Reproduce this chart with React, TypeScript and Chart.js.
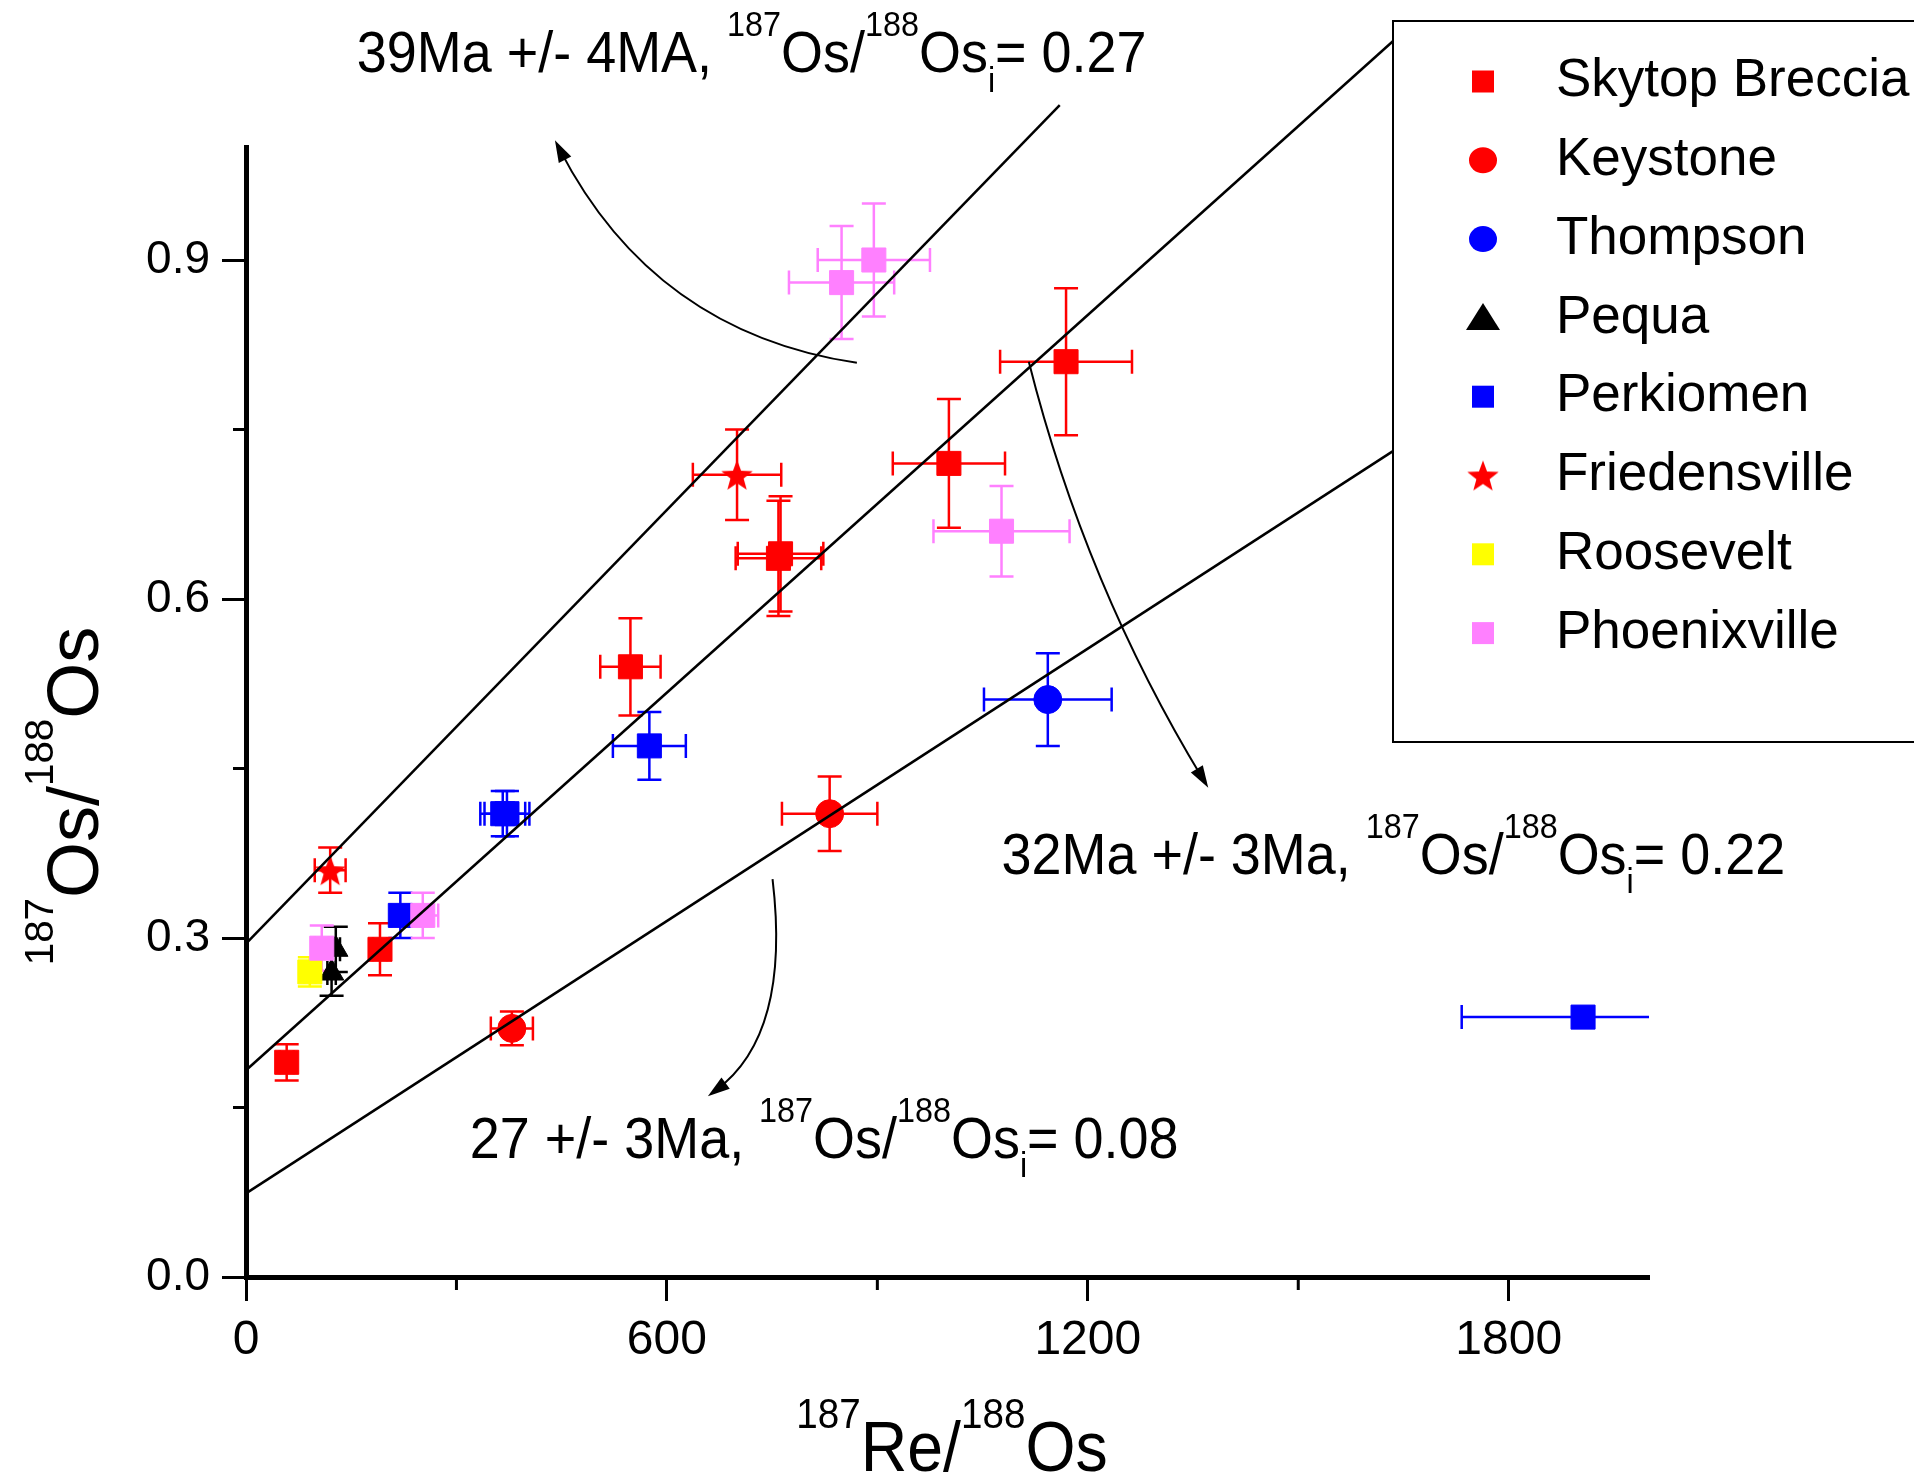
import React, { useEffect, useRef } from 'react';
import { Chart, registerables } from 'chart.js';

Chart.register(...registerables);

const FONT = '"Liberation Sans", Arial, Helvetica, sans-serif';

// ---------- axes ----------
const X_MIN = 0;
const X_MAX = 2000;
const Y_MIN = 0;
const Y_MAX = 1.0;
const xMajorTicks = [0, 600, 1200, 1800];
const yMajorTicks = [0, 0.3, 0.6, 0.9];
const xMinorTicks = [300, 900, 1500];
const yMinorTicks = [0.15, 0.45, 0.75];
const xTitle = '^{187}Re/^{188}Os';
const yTitle = '^{187}Os/^{188}Os';

// ---------- series ----------
const seriesNames = ['Skytop Breccia', 'Keystone', 'Thompson', 'Pequa', 'Perkiomen', 'Friedensville', 'Roosevelt', 'Phoenixville'];
const seriesColors = ['#FF0000', '#FF0000', '#0000FF', '#000000', '#0000FF', '#FF0000', '#FFFF00', '#FF80FF'];
const seriesStyles = ['rect', 'circle', 'circle', 'triangle', 'rect', 'star', 'rect', 'rect'];
const seriesOrder = [8, 7, 6, 3, 5, 4, 2, 1];

const skytopX = [58, 191, 548, 762, 759, 1002, 1169];
const skytopY = [0.19, 0.29, 0.54, 0.64, 0.636, 0.72, 0.81];
const skytopXe = [10, 10, 43, 61, 61, 80, 94];
const skytopYe = [0.016, 0.023, 0.043, 0.051, 0.051, 0.057, 0.065];

const keystoneX = [379, 832];
const keystoneY = [0.22, 0.41];
const keystoneXe = [30, 68];
const keystoneYe = [0.015, 0.033];

const thompsonX = [1143];
const thompsonY = [0.511];
const thompsonXe = [91];
const thompsonYe = [0.041];

const pequaX = [128, 122];
const pequaY = [0.29, 0.269];
const pequaXe = [6, 6];
const pequaYe = [0.02, 0.02];

const perkiomenX = [220, 366, 372, 575, 1906];
const perkiomenY = [0.32, 0.41, 0.41, 0.47, 0.23];
const perkiomenXe = [13, 32, 32, 52, 173];
const perkiomenYe = [0.02, 0.02, 0.02, 0.03, 0];

const friedensvilleX = [120, 700];
const friedensvilleY = [0.36, 0.71];
const friedensvilleXe = [22, 63];
const friedensvilleYe = [0.02, 0.04];

const rooseveltX = [91];
const rooseveltY = [0.27];
const rooseveltXe = [8];
const rooseveltYe = [0.013];

const phoenixvilleX = [108, 252, 849, 895, 1077];
const phoenixvilleY = [0.291, 0.32, 0.88, 0.9, 0.66];
const phoenixvilleXe = [10, 22, 75, 80, 97];
const phoenixvilleYe = [0.02, 0.02, 0.05, 0.05, 0.04];

const seriesX = [skytopX, keystoneX, thompsonX, pequaX, perkiomenX, friedensvilleX, rooseveltX, phoenixvilleX];
const seriesY = [skytopY, keystoneY, thompsonY, pequaY, perkiomenY, friedensvilleY, rooseveltY, phoenixvilleY];
const seriesXe = [skytopXe, keystoneXe, thompsonXe, pequaXe, perkiomenXe, friedensvilleXe, rooseveltXe, phoenixvilleXe];
const seriesYe = [skytopYe, keystoneYe, thompsonYe, pequaYe, perkiomenYe, friedensvilleYe, rooseveltYe, phoenixvilleYe];

// ---------- isochron lines ----------
const isoX = [[0, 1160], [0, 1650], [0, 1700]];
const isoY = [[0.295, 1.037], [0.183, 1.102], [0.074, 0.757]];

// ---------- annotations (anchor in data coords) ----------
const annoText = [
  '39Ma +/- 4MA, ^{187}Os/^{188}Os_{i}= 0.27',
  '32Ma +/- 3Ma, ^{187}Os/^{188}Os_{i}= 0.22',
  '27 +/- 3Ma, ^{187}Os/^{188}Os_{i}= 0.08',
];
const annoX = [158, 1077, 319];
const annoY = [1.066, 0.357, 0.105];

// arrows: start, control, end (data coords)
const arrowStartX = [870.8, 1115.9, 750.6];
const arrowStartY = [0.809, 0.81, 0.352];
const arrowCtrlX = [581.5, 1196.4, 777];
const arrowCtrlY = [0.836, 0.612, 0.214];
const arrowEndX = [440.4, 1371.7, 658.4];
const arrowEndY = [1.006, 0.433, 0.16];

type Part = { t: string; k: 'n' | 'sup' | 'sub' };

function parseRich(s: string): Part[] {
  const out: Part[] = [];
  const re = /\^\{([^}]*)\}|_\{([^}]*)\}|([^^_]+)/g;
  let m: RegExpExecArray | null;
  while ((m = re.exec(s))) {
    if (m[1] !== undefined) out.push({ t: m[1], k: 'sup' });
    else if (m[2] !== undefined) out.push({ t: m[2], k: 'sub' });
    else out.push({ t: m[3], k: 'n' });
  }
  return out;
}

function drawRich(
  ctx: CanvasRenderingContext2D,
  s: string,
  x: number,
  y: number,
  size: number,
  supRatio: number,
  hscale: number,
  align: 'left' | 'center'
) {
  const parts = parseRich(s);
  const fs = (k: string) => (k === 'n' ? size : size * supRatio);
  let w = 0;
  for (const p of parts) {
    ctx.font = `${fs(p.k)}px ${FONT}`;
    w += ctx.measureText(p.t).width;
  }
  const sx = align === 'center' ? x - (w * hscale) / 2 : x;
  ctx.save();
  ctx.translate(sx, y);
  ctx.scale(hscale, 1);
  ctx.textAlign = 'left';
  ctx.textBaseline = 'alphabetic';
  ctx.fillStyle = '#000';
  let cx = 0;
  for (const p of parts) {
    ctx.font = `${fs(p.k)}px ${FONT}`;
    const dy = p.k === 'sup' ? -0.62 * size : p.k === 'sub' ? 0.33 * size : 0;
    ctx.fillText(p.t, cx, dy);
    cx += ctx.measureText(p.t).width;
  }
  ctx.restore();
}

function makeStar(size: number, color: string): HTMLCanvasElement {
  const c = document.createElement('canvas');
  c.width = size;
  c.height = size;
  const g = c.getContext('2d')!;
  const R = size / 2 - 0.5;
  const r = R * 0.42;
  const cx = size / 2;
  const cy = size / 2 + (R - R * Math.cos(Math.PI / 5)) / 2;
  g.beginPath();
  for (let i = 0; i < 10; i++) {
    const a = -Math.PI / 2 + (i * Math.PI) / 5;
    const rr = i % 2 === 0 ? R : r;
    g.lineTo(cx + rr * Math.cos(a), cy + rr * Math.sin(a));
  }
  g.closePath();
  g.fillStyle = color;
  g.fill();
  return c;
}

function drawMarker(ctx: CanvasRenderingContext2D, style: string, x: number, y: number, color: string, star: HTMLCanvasElement) {
  ctx.save();
  ctx.fillStyle = color;
  ctx.beginPath();
  if (style === 'rect') {
    ctx.rect(x - 11, y - 11, 22, 22);
    ctx.fill();
  } else if (style === 'circle') {
    ctx.ellipse(x, y, 14, 13, 0, 0, Math.PI * 2);
    ctx.fill();
  } else if (style === 'triangle') {
    ctx.moveTo(x, y - 15);
    ctx.lineTo(x + 17, y + 12);
    ctx.lineTo(x - 17, y + 12);
    ctx.closePath();
    ctx.fill();
  } else if (style === 'star') {
    ctx.drawImage(star, x - star.width / 2, y - star.height / 2);
  }
  ctx.restore();
}

export default function App() {
  const ref = useRef<HTMLCanvasElement>(null);

  useEffect(() => {
    const canvas = ref.current!;
    const star = makeStar(34, '#FF0000');

    const scatterSets = seriesNames.map((name, si) => ({
      type: 'scatter' as const,
      label: name,
      data: seriesX[si].map((x, i) => ({ x, y: seriesY[si][i], xe: seriesXe[si][i], ye: seriesYe[si][i] })),
      backgroundColor: seriesColors[si],
      borderColor: seriesColors[si],
      borderWidth: 1,
      pointStyle: seriesStyles[si] === 'star' ? star : seriesStyles[si],
      pointRadius: seriesStyles[si] === 'rect' ? 17 : 14,
      order: seriesOrder[si],
      errColor: seriesColors[si],
    }));

    const lineSets = isoX.map((xs, li) => ({
      type: 'scatter' as const,
      label: 'isochron' + li,
      data: xs.map((x, i) => ({ x, y: isoY[li][i] })),
      showLine: true,
      borderColor: '#000',
      borderWidth: 2.5,
      pointRadius: 0,
      fill: false,
      tension: 0,
      clip: false as any,
      order: 0,
      isLine: true,
    }));

    const overlay = {
      id: 'overlay',
      beforeDatasetsDraw(chart: any) {
        const ctx: CanvasRenderingContext2D = chart.ctx;
        const xs = chart.scales.x;
        const ys = chart.scales.y;
        const a = chart.chartArea;
        ctx.save();
        ctx.beginPath();
        ctx.rect(a.left, a.top - 50, a.right - a.left, a.bottom - a.top + 100);
        ctx.clip();
        ctx.lineWidth = 2.5;
        const cap = 12;
        chart.data.datasets.forEach((ds: any) => {
          if (ds.isLine) return;
          ctx.strokeStyle = ds.errColor;
          ds.data.forEach((p: any) => {
            const px = xs.getPixelForValue(p.x);
            const py = ys.getPixelForValue(p.y);
            ctx.beginPath();
            if (p.xe > 0) {
              const l = xs.getPixelForValue(p.x - p.xe);
              const r = xs.getPixelForValue(p.x + p.xe);
              ctx.moveTo(l, py);
              ctx.lineTo(r, py);
              ctx.moveTo(l, py - cap);
              ctx.lineTo(l, py + cap);
              ctx.moveTo(r, py - cap);
              ctx.lineTo(r, py + cap);
            }
            if (p.ye > 0) {
              const t = ys.getPixelForValue(p.y + p.ye);
              const b = ys.getPixelForValue(p.y - p.ye);
              ctx.moveTo(px, t);
              ctx.lineTo(px, b);
              ctx.moveTo(px - cap, t);
              ctx.lineTo(px + cap, t);
              ctx.moveTo(px - cap, b);
              ctx.lineTo(px + cap, b);
            }
            ctx.stroke();
          });
        });
        ctx.restore();
      },
      afterDraw(chart: any) {
        const ctx: CanvasRenderingContext2D = chart.ctx;
        const xs = chart.scales.x;
        const ys = chart.scales.y;
        const a = chart.chartArea;
        ctx.save();
        // minor ticks
        ctx.strokeStyle = '#000';
        ctx.lineWidth = 3;
        ctx.beginPath();
        xMinorTicks.forEach((v) => {
          const px = xs.getPixelForValue(v);
          ctx.moveTo(px, a.bottom);
          ctx.lineTo(px, a.bottom + 13);
        });
        yMinorTicks.forEach((v) => {
          const py = ys.getPixelForValue(v);
          ctx.moveTo(a.left, py);
          ctx.lineTo(a.left - 13, py);
        });
        ctx.stroke();

        // annotation labels
        annoText.forEach((t, i) => {
          drawRich(ctx, t, xs.getPixelForValue(annoX[i]), ys.getPixelForValue(annoY[i]), 58, 0.6, 0.93, 'left');
        });

        // arrows
        ctx.strokeStyle = '#000';
        ctx.fillStyle = '#000';
        ctx.lineWidth = 2;
        arrowStartX.forEach((_, i) => {
          const x0 = xs.getPixelForValue(arrowStartX[i]);
          const y0 = ys.getPixelForValue(arrowStartY[i]);
          const cx = xs.getPixelForValue(arrowCtrlX[i]);
          const cy = ys.getPixelForValue(arrowCtrlY[i]);
          const x2 = xs.getPixelForValue(arrowEndX[i]);
          const y2 = ys.getPixelForValue(arrowEndY[i]);
          const ang = Math.atan2(y2 - cy, x2 - cx);
          const L = 22;
          const W = 7;
          ctx.beginPath();
          ctx.moveTo(x0, y0);
          ctx.quadraticCurveTo(cx, cy, x2 - Math.cos(ang) * 10, y2 - Math.sin(ang) * 10);
          ctx.stroke();
          ctx.beginPath();
          ctx.moveTo(x2, y2);
          ctx.lineTo(x2 - L * Math.cos(ang) + W * Math.sin(ang), y2 - L * Math.sin(ang) - W * Math.cos(ang));
          ctx.lineTo(x2 - L * Math.cos(ang) - W * Math.sin(ang), y2 - L * Math.sin(ang) + W * Math.cos(ang));
          ctx.closePath();
          ctx.fill();
        });

        // axis titles
        drawRich(ctx, xTitle, 952, 1471, 70, 0.6, 0.92, 'center');
        ctx.save();
        ctx.translate(98, 796);
        ctx.rotate(-Math.PI / 2);
        drawRich(ctx, yTitle, 0, 0, 72, 0.56, 1, 'center');
        ctx.restore();

        // legend
        const bx = 1393;
        const by = 21;
        const bh = 721;
        ctx.fillStyle = '#fff';
        ctx.fillRect(bx, by, 600, bh);
        ctx.strokeStyle = '#000';
        ctx.lineWidth = 2;
        ctx.strokeRect(bx, by, 600, bh);
        seriesNames.forEach((name, i) => {
          const ry = 81.5 + i * 78.8;
          drawMarker(ctx, seriesStyles[i], 1483, ry, seriesColors[i], star);
          ctx.fillStyle = '#000';
          ctx.font = `53px ${FONT}`;
          ctx.textAlign = 'left';
          ctx.textBaseline = 'middle';
          ctx.fillText(name, 1556, ry);
        });
        ctx.restore();
      },
    };

    const chart = new Chart(canvas, {
      type: 'scatter',
      data: { datasets: [...lineSets, ...scatterSets] as any },
      options: {
        responsive: false,
        animation: false,
        events: [],
        layout: { padding: { left: 0, top: 147, right: 265, bottom: 0 } },
        plugins: { legend: { display: false }, tooltip: { enabled: false } },
        scales: {
          x: {
            type: 'linear',
            position: 'bottom',
            min: X_MIN,
            max: X_MAX,
            afterBuildTicks: (s: any) => {
              s.ticks = xMajorTicks.map((v) => ({ value: v }));
            },
            ticks: {
              autoSkip: false,
              maxRotation: 0,
              color: '#000',
              padding: 11,
              font: { family: FONT, size: 48 },
              callback: (v: any) => String(v),
            },
            grid: { drawOnChartArea: false, drawTicks: true, tickLength: 24, tickWidth: 3, tickColor: '#000', color: '#000' },
            border: { display: true, color: '#000', width: 5 },
            afterFit: (s: any) => {
              s.height = 201;
            },
          },
          y: {
            type: 'linear',
            position: 'left',
            min: Y_MIN,
            max: Y_MAX,
            afterBuildTicks: (s: any) => {
              s.ticks = yMajorTicks.map((v) => ({ value: v }));
            },
            ticks: {
              autoSkip: false,
              color: '#000',
              padding: 12,
              font: { family: FONT, size: 46 },
              callback: (v: any) => Number(v).toFixed(1),
            },
            grid: { drawOnChartArea: false, drawTicks: true, tickLength: 24, tickWidth: 3, tickColor: '#000', color: '#000' },
            border: { display: true, color: '#000', width: 5 },
            afterFit: (s: any) => {
              s.width = 246;
            },
          },
        },
      },
      plugins: [overlay],
    } as any);

    return () => chart.destroy();
  }, []);

  return (
    <div style={{ position: 'absolute', left: 0, top: 0, width: 1914, height: 1478, background: '#fff' }}>
      <canvas ref={ref} width={1914} height={1478} style={{ display: 'block', width: 1914, height: 1478 }} />
    </div>
  );
}
